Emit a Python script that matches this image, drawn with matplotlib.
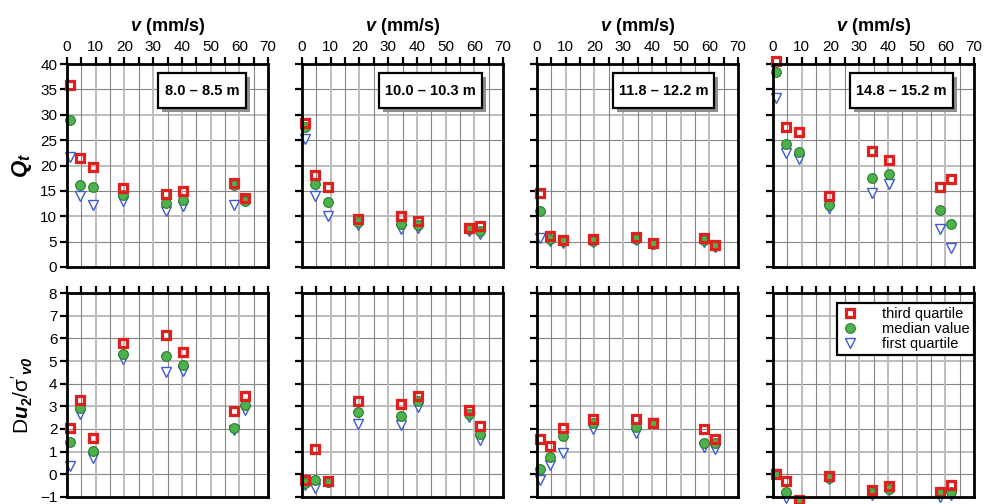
import matplotlib
matplotlib.use("Agg")
import matplotlib.pyplot as plt
import matplotlib.patheffects as pe
from matplotlib.patches import Rectangle
from matplotlib.ticker import MultipleLocator
import numpy as np

# --- fonts ---
plt.rcParams['font.family'] = ['Liberation Sans', 'DejaVu Sans']
plt.rcParams['mathtext.fontset'] = 'custom'
plt.rcParams['mathtext.rm'] = 'Liberation Sans'
plt.rcParams['mathtext.it'] = 'Liberation Sans:italic'
plt.rcParams['mathtext.bf'] = 'Liberation Sans:bold'
plt.rcParams['mathtext.bfit'] = 'Liberation Sans:bold:italic'

# --- DATA ---
velocity = [1, 4.5, 9, 19.5, 34.5, 40.5, 58, 62]   # mm/s
depths = ["8.0 – 8.5 m", "10.0 – 10.3 m", "11.8 – 12.2 m", "14.8 – 15.2 m"]

qt_q3 = [[35.9, 21.5, 19.8, 15.5, 14.4, 14.9, 16.6, 13.5],
         [28.4, 18.2, 15.8, 9.5, 10.1, 9.0, 7.7, 8.1],
         [14.5, 6.2, 5.3, 5.5, 5.9, 4.8, 5.8, 4.3],
         [40.6, 27.6, 26.6, 14.0, 22.8, 21.1, 15.7, 17.4]]
qt_med = [[29.0, 16.1, 15.8, 14.2, 12.6, 13.3, 16.2, 13.1],
          [27.5, 16.3, 12.9, 8.9, 8.5, 8.2, 7.4, 7.0],
          [11.0, 5.6, 5.1, 5.2, 5.6, 4.6, 5.3, 4.1],
          [38.5, 24.3, 22.7, 12.2, 17.5, 18.3, 11.2, 8.5]]
qt_q1 = [[21.6, 14.0, 12.3, 13.1, 11.1, 12.0, 12.3, 13.0],
         [25.2, 14.0, 10.1, 8.2, 7.4, 7.6, 7.0, 6.5],
         [5.8, 5.2, 4.8, 5.0, 5.4, 4.5, 5.0, 4.0],
         [33.3, 22.5, 21.3, 11.6, 14.5, 16.3, 7.5, 3.7]]

du_q3 = [[2.05, 3.3, 1.6, 5.8, 6.15, 5.4, 2.8, 3.45],
         [-0.25, 1.1, -0.28, 3.25, 3.12, 3.47, 2.83, 2.13],
         [1.55, 1.25, 2.03, 2.42, 2.42, 2.27, 1.98, 1.57],
         [0.03, -0.3, -1.12, -0.08, -0.68, -0.5, -0.8, -0.47]]
du_med = [[1.43, 2.94, 1.02, 5.33, 5.22, 4.84, 2.03, 3.06],
          [-0.38, -0.27, -0.33, 2.74, 2.59, 3.25, 2.64, 1.78],
          [0.25, 0.77, 1.7, 2.26, 2.08, 2.25, 1.4, 1.37],
          [0.02, -0.77, -1.15, -0.14, -0.84, -0.65, -0.82, -0.76]]
du_q1 = [[0.36, 2.68, 0.7, 5.07, 4.52, 4.56, 1.95, 2.86],
         [-0.45, -0.62, -0.36, 2.22, 2.17, 2.95, 2.52, 1.52],
         [-0.27, 0.42, 0.92, 1.99, 1.82, 2.25, 1.2, 1.13],
         [0.0, -1.05, -1.2, -0.2, -0.9, -0.7, -1.0, -0.9]]

# --- STYLE ---
RED = '#e0201e'
GREEN = '#4cb34c'
GREEN_EDGE = '#2f7a2f'
BLUE = '#3d5bd0'
GRID_DARK = '#858585'
GRID_LIGHT = '#bdbdbd'

W, H = 989, 504
fig = plt.figure(figsize=(W / 100, H / 100), dpi=100)

col_left = [67, 302, 537, 773]
ax_w = 201
rows = [(64, 267), (293, 497)]   # top/bottom pixel of each row

# label box extents (axes fraction x0, x1)
box_x = [(0.453, 0.891), (0.383, 0.896), (0.378, 0.881), (0.383, 0.896)]


def style_axes(ax, row, col):
    ax.set_xlim(0, 70)
    if row == 0:
        ax.set_ylim(0, 40)
        ax.yaxis.set_major_locator(MultipleLocator(5))
        for y in np.arange(5, 40, 5):
            light = (y % 10 == 0)
            ax.axhline(y, color=GRID_LIGHT if light else GRID_DARK,
                       lw=1.4 if light else 0.8, zorder=1)
    else:
        ax.set_ylim(-1, 8)
        ax.yaxis.set_major_locator(MultipleLocator(1))
        for y in np.arange(0, 8, 1):
            light = (y % 2 == 1)
            ax.axhline(y, color=GRID_LIGHT if light else GRID_DARK,
                       lw=1.4 if light else 0.8, zorder=1)
    for x in np.arange(5, 70, 5):
        light = (x % 10 == 0)
        ax.axvline(x, color=GRID_LIGHT if light else GRID_DARK,
                   lw=1.4 if light else 0.8, zorder=1)

    ax.xaxis.set_major_locator(MultipleLocator(10))
    ax.xaxis.set_minor_locator(MultipleLocator(5))
    ax.xaxis.tick_top()
    ax.tick_params(axis='x', which='both', top=True, bottom=False,
                   direction='out', length=5, width=1.6, color='black',
                   labeltop=(row == 0), labelbottom=False,
                   labelsize=11, pad=2)
    ax.tick_params(axis='y', which='both', left=True, right=False,
                   direction='out', length=5, width=1.6, color='black',
                   labelleft=(col == 0), labelsize=11, pad=2)
    for s in ax.spines.values():
        s.set_linewidth(2.0)
        s.set_color('black')
        s.set_zorder(6)

    if row == 0:
        ax.xaxis.set_label_position('top')
        ax.set_xlabel(r"$\mathbfit{v}$ (mm/s)", fontsize=13,
                      fontweight='bold', labelpad=7)


def plot_series(ax, q3, med, q1):
    h1, = ax.plot(velocity, q3, ls='none', marker='s', ms=6.2,
                  mfc='none', mec=RED, mew=2.3, zorder=5, clip_on=False,
                  label='third quartile')
    h2, = ax.plot(velocity, med, ls='none', marker='o', ms=7.0,
                  mfc=GREEN, mec=GREEN_EDGE, mew=0.8, zorder=4,
                  clip_on=False, label='median value')
    h3, = ax.plot(velocity, q1, ls='none', marker='v', ms=6.6,
                  mfc='white', mec=BLUE, mew=1.0, zorder=3, clip_on=False,
                  label='first quartile')
    return h1, h2, h3


handles = None
for row, (top_px, bot_px) in enumerate(rows):
    for col in range(4):
        left = col_left[col] / W
        bottom = 1 - bot_px / H
        height = (bot_px - top_px) / H
        ax = fig.add_axes([left, bottom, ax_w / W, height])
        style_axes(ax, row, col)
        if row == 0:
            handles = plot_series(ax, qt_q3[col], qt_med[col], qt_q1[col])
            x0, x1 = box_x[col]
            y0, y1 = 0.783, 0.955
            rect = Rectangle((x0, y0), x1 - x0, y1 - y0,
                             transform=ax.transAxes, facecolor='white',
                             edgecolor='black', lw=1.6, zorder=7)
            rect.set_path_effects([
                pe.SimplePatchShadow(offset=(3, -3), shadow_rgbFace='#8f8f8f',
                                     alpha=1.0),
                pe.Normal()])
            ax.add_patch(rect)
            ax.text((x0 + x1) / 2, (y0 + y1) / 2, depths[col],
                    transform=ax.transAxes, ha='center', va='center',
                    fontsize=10.5, fontweight='bold', zorder=8)
        else:
            handles = plot_series(ax, du_q3[col], du_med[col], du_q1[col])
            if col == 3:
                leg = ax.legend(handles=handles, loc='upper right',
                                bbox_to_anchor=(1.0, 0.951), borderaxespad=0,
                                fontsize=10.5, frameon=True, fancybox=False,
                                framealpha=1, edgecolor='black',
                                handlelength=1.2, handletextpad=1.6,
                                labelspacing=0.05, borderpad=0.3)
                leg.get_frame().set_linewidth(1.6)
                leg.set_zorder(9)

fig.text(22 / W, 1 - 165.5 / H, r"$\mathbfit{Q}_{\mathbfit{t}}$",
         rotation=90, ha='center', va='center', fontsize=16)
fig.text(22 / W, 1 - 395 / H,
         r"$\mathrm{D}\mathbfit{u}_{\mathbf{2}}\mathrm{/σ'}_{\mathbfit{v0}}$",
         rotation=90, ha='center', va='center', fontsize=15)

fig.savefig('out.png', dpi=100)
